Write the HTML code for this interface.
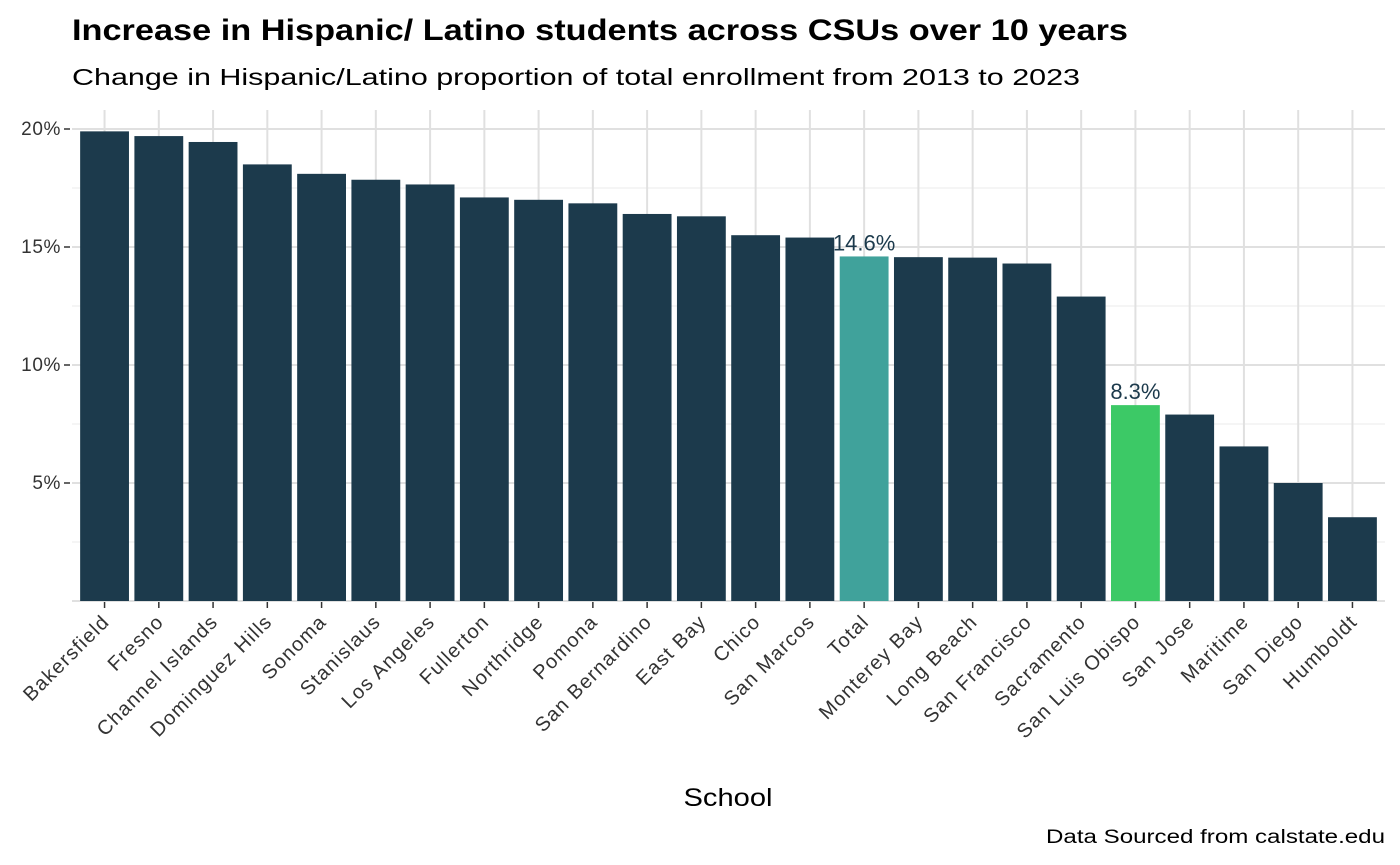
<!DOCTYPE html>
<html><head><meta charset="utf-8"><style>
body{margin:0;background:#fff;font-family:"Liberation Sans",sans-serif;}
svg{display:block}
</style></head><body>
<svg id="chart" width="1400" height="865" viewBox="0 0 1400 865">
<text x="72" y="40" font-size="30" font-weight="bold" fill="#000" textLength="1056" lengthAdjust="spacingAndGlyphs">Increase in Hispanic/ Latino students across CSUs over 10 years</text>
<text x="72" y="85" font-size="23" fill="#000" textLength="1008" lengthAdjust="spacingAndGlyphs">Change in Hispanic/Latino proportion of total enrollment from 2013 to 2023</text>
<g id="grid"></g><g id="bars"></g><g id="axes"></g>
<text x="728" y="806" font-size="25" text-anchor="middle" fill="#000" textLength="89" lengthAdjust="spacingAndGlyphs">School</text>
<text x="1385" y="843" font-size="19" text-anchor="end" fill="#000" textLength="339" lengthAdjust="spacingAndGlyphs">Data Sourced from calstate.edu</text>
</svg>
<script>
const categories=["Bakersfield","Fresno","Channel Islands","Dominguez Hills","Sonoma","Stanislaus","Los Angeles","Fullerton","Northridge","Pomona","San Bernardino","East Bay","Chico","San Marcos","Total","Monterey Bay","Long Beach","San Francisco","Sacramento","San Luis Obispo","San Jose","Maritime","San Diego","Humboldt"];
const values=[19.9,19.7,19.45,18.5,18.1,17.85,17.65,17.1,17.0,16.85,16.4,16.3,15.5,15.4,14.6,14.57,14.55,14.3,12.9,8.3,7.9,6.55,5.0,3.55];
const yTicks=[5,10,15,20];
const yTickLabels=["5%","10%","15%","20%"];
const highlights={"Total":"#40a29b","San Luis Obispo":"#3cc966"};
const labelled=["Total","San Luis Obispo"];

const NS="http://www.w3.org/2000/svg";
const L=72,R=1385,T=110,B=601;
const band=(R-L)/(categories.length-1+1.2);
const xc=i=>L+band*0.6+i*band;
const y=v=>B-v*23.6;
function mk(tag,attrs,parent){const e=document.createElementNS(NS,tag);for(const k in attrs)e.setAttribute(k,attrs[k]);parent.appendChild(e);return e;}
const grid=document.getElementById('grid'),bars=document.getElementById('bars'),axes=document.getElementById('axes');
for(let v=2.5;v<=20;v+=5){const l=mk('line',{x1:L,x2:R,y1:y(v),y2:y(v),stroke:'#ebebeb','stroke-width':1},grid);

}
yTicks.forEach((v,i)=>{const l=mk('line',{x1:L,x2:R,y1:y(v),y2:y(v),stroke:'#e0e0e0','stroke-width':2},grid);


const t=mk('text',{x:61,y:y(v)+6,'font-size':19,'letter-spacing':0.6,'text-anchor':'end',fill:'#333'},axes);t.textContent=yTickLabels[i];


const tk=mk('line',{x1:64,x2:70,y1:y(v),y2:y(v),stroke:'#333','stroke-width':1.5},axes);

});
const bl=mk('line',{x1:L,x2:R,y1:y(0),y2:y(0),stroke:'#e0e0e0','stroke-width':2},grid);


categories.forEach((c,i)=>{
const x=xc(i);
const g=mk('line',{x1:x,x2:x,y1:T,y2:B,stroke:'#e0e0e0','stroke-width':2},grid);


const w=band*0.9;
const r=mk('rect',{x:x-w/2,y:y(values[i]),width:w,height:y(0)-y(values[i]),fill:highlights[c]||'#1c3a4c'},bars);


if(labelled.includes(c)){const t=mk('text',{x:x,y:y(values[i])-6,'font-size':22,'text-anchor':'middle',fill:'#1c3a4c'},bars);t.textContent=values[i].toFixed(1)+'%';

}
const tk=mk('line',{x1:x,x2:x,y1:B+1,y2:B+7,stroke:'#333','stroke-width':1.5},axes);


const t=mk('text',{x:x+6,y:B+22,'font-size':20,'letter-spacing':1.2,'text-anchor':'end',fill:'#333',transform:`rotate(-45 ${x+6} ${B+22})`},axes);t.textContent=c;


});
</script>
</body></html>
